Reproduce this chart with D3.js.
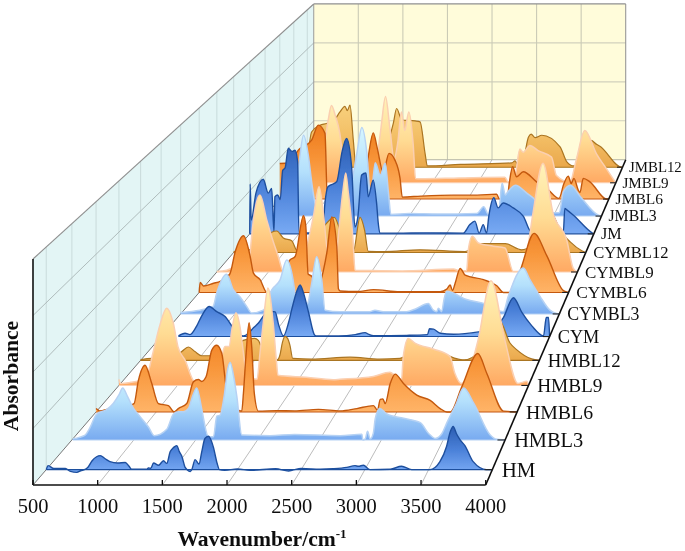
<!DOCTYPE html>
<html><head><meta charset="utf-8">
<script src="https://cdn.jsdelivr.net/npm/d3@7"></script>
<style>html,body{margin:0;padding:0;background:#fff}svg{display:block}text{font-family:"Liberation Serif","Times New Roman",serif;fill:#111}</style>
</head><body><div id="c"></div>
<script>
const seriesNames=["HM","HMBL3","HMBL6","HMBL9","HMBL12","CYM","CYMBL3","CYMBL6","CYMBL9","CYMBL12","JM","JMBL3","JMBL6","JMBL9","JMBL12"];
const xTicks=[500,1000,1500,2000,2500,3000,3500,4000];
const HM=[[500,0],[515,.018],[560,.005],[650,.005],[690,-.008],[740,-.012],[770,-.005],[810,.003],[829,.012],[860,.04],[895,.058],[924,.063],[960,.05],[1000,.036],[1060,.03],[1120,.032],[1150,.015],[1170,.002],[1290,.002],[1301,.008],[1320,.006],[1342,.03],[1381,.02],[1420,.04],[1446,.028],[1472,.08],[1500,.1],[1524,.108],[1545,.08],[1564,.06],[1590,.01],[1605,0],[1630,-.008],[1642,0],[1668,.045],[1699,.025],[1720,.08],[1745,.14],[1772,.15],[1795,.13],[1812,.1],[1840,.03],[1859,0],[1900,-.003],[2000,.003],[2100,-.003],[2300,.004],[2400,-.006],[2445,0],[2500,.005],[2650,.002],[2750,.004],[2858,.01],[2923,.018],[2950,.015],[2988,.02],[3040,0],[3200,.002],[3288,.015],[3367,0],[3510,0],[3589,.036],[3641,.104],[3670,.17],[3693,.194],[3720,.16],[3746,.135],[3785,.108],[3850,.036],[3955,0],[4000,0]];
const HMBL3=[[507,.005],[607,.022],[640,.05],[701,.12],[780,.14],[836,.17],[880,.208],[911,.24],[950,.2],[998,.146],[1051,.108],[1119,.06],[1165,.02],[1267,.05],[1321,.12],[1361,.13],[1402,.13],[1442,.146],[1480,.21],[1509,.24],[1530,.2],[1550,.14],[1604,.015],[1644,.015],[1671,.11],[1698,.115],[1730,.2],[1760,.33],[1779,.358],[1805,.3],[1833,.2],[1873,.023],[2100,.02],[2300,.025],[2668,.02],[2843,.026],[2851,0],[2870,.005],[2889,.04],[2910,.005],[2935,.03],[2951,.098],[2986,.146],[3045,.12],[3180,.1],[3315,.08],[3382,.03],[3436,.007],[3490,.03],[3530,.08],[3600,.16],[3665,.24],[3746,.17],[3880,.023],[3921,.005],[4000,0]];
const HMBL6=[[500,.016],[530,.005],[616,.016],[700,.02],[816,.04],[852,.15],[907,.222],[963,.135],[1018,.04],[1101,.03],[1148,0],[1184,.016],[1254,.04],[1309,.143],[1351,.154],[1378,.145],[1414,.167],[1462,.294],[1503,.317],[1545,.278],[1586,.1],[1642,.03],[1711,.004],[1725,.09],[1745,.26],[1772,.424],[1795,.3],[1815,.09],[1849,.004],[2000,.006],[2150,.005],[2348,.012],[2529,.005],[2668,.016],[2806,.03],[2839,.008],[2862,.06],[2884,.062],[2903,.04],[2945,.135],[2986,.18],[3055,.135],[3166,.08],[3277,.055],[3360,.016],[3416,0],[3443,0],[3540,.12],[3673,.278],[3748,.183],[3887,.004],[4000,0]];
const HMBL9=[[500,.03],[512,.01],[600,.015],[690,.025],[740,.05],[793,.165],[850,.295],[908,.378],[964,.305],[1004,.19],[1064,.125],[1149,.018],[1250,.02],[1330,.08],[1377,.14],[1406,.19],[1440,.19],[1470,.29],[1500,.355],[1534,.287],[1557,.19],[1590,.06],[1680,.03],[1705,.157],[1733,.305],[1773,.476],[1818,.305],[1847,.11],[1859,.05],[2100,.04],[2331,.028],[2388,.03],[2673,.044],[2815,.064],[2858,.05],[2915,.028],[2929,.14],[2972,.23],[3029,.207],[3185,.178],[3328,.142],[3370,.06],[3427,.01],[3456,.02],[3568,.22],[3679,.512],[3798,.22],[3909,.01],[3985,.02],[4000,0]];
const HMBL12=[[500,.003],[600,.01],[780,.01],[861,.044],[919,.067],[977,.044],[1036,.023],[1109,.023],[1124,.002],[1300,.01],[1400,.1],[1500,.11],[1533,.1],[1600,.01],[1700,.003],[1723,.027],[1745,.09],[1767,.12],[1790,.11],[1811,.075],[1835,.01],[2000,.006],[2338,.016],[2600,.006],[2776,.01],[2900,.04],[3100,.04],[3288,.006],[3340,.002],[3500,.06],[3650,.2],[3742,.087],[3800,.054],[3932,.007],[4000,0]];
const CYM=[[656,.003],[716,.017],[760,.01],[821,.055],[866,.107],[932,.155],[1001,.128],[1076,.103],[1136,.055],[1190,.01],[1242,.003],[1287,.017],[1332,.045],[1377,.07],[1422,.106],[1470,.13],[1527,.127],[1557,.064],[1602,.003],[1647,.07],[1677,.14],[1720,.23],[1752,.266],[1785,.22],[1830,.12],[1880,.01],[1896,.003],[2100,.003],[2250,.01],[2338,.02],[2368,.012],[2413,.004],[2713,.006],[2900,.01],[2918,.04],[2954,.038],[3014,.017],[3134,.012],[3359,.024],[3500,.04],[3584,.098],[3674,.2],[3750,.124],[3840,.055],[3945,.003],[3970,.098],[3990,.098],[4000,0]];
const CYMBL3=[[500,.008],[679,.02],[756,.03],[800,.04],[833,.11],[925,.21],[987,.127],[1049,.09],[1110,.04],[1156,.005],[1264,.02],[1342,.127],[1419,.18],[1480,.285],[1539,.18],[1557,.11],[1600,.02],[1677,.06],[1711,.16],[1757,.303],[1804,.18],[1835,.02],[1973,.012],[2250,.012],[2296,.02],[2373,.012],[2589,.012],[2665,.025],[2789,.055],[2835,.02],[2866,.012],[2882,.03],[2912,.012],[2934,.076],[2959,.12],[3143,.076],[3328,.05],[3420,.02],[3482,.012],[3528,.093],[3667,.243],[3729,.18],[3821,.093],[3913,.02],[3975,.002],[4000,0]];
const CYMBL6=[[500,0],[509,.054],[540,.035],[636,.05],[699,.06],[790,.1],[841,.22],[920,.307],[983,.195],[1014,.105],[1077,.069],[1141,0],[1251,0],[1298,.114],[1362,.177],[1409,.195],[1488,.416],[1510,.36],[1532,.1],[1567,.087],[1620,.02],[1677,.12],[1709,.214],[1757,.41],[1804,.248],[1819,.02],[1836,.008],[2000,.005],[2152,.015],[2400,.004],[2783,.004],[2846,.018],[2878,.04],[2900,.01],[2925,.05],[2973,.13],[3020,.094],[3194,.069],[3320,.036],[3383,0],[3446,0],[3541,.118],[3673,.32],[3793,.2],[3951,.01],[4000,0]];
const CYMBL9=[[500,.002],[596,.01],[700,.03],[806,.005],[822,.1],[855,.289],[919,.427],[984,.289],[1032,.196],[1097,.085],[1146,.002],[1300,.02],[1388,.178],[1437,.307],[1492,.474],[1534,.325],[1567,.14],[1600,.02],[1650,.02],[1676,.178],[1725,.455],[1751,.55],[1773,.455],[1822,.178],[1841,.01],[2000,.008],[2300,.006],[2796,.016],[2860,.006],[2925,.008],[2941,.124],[2980,.198],[3038,.161],[3184,.143],[3297,.133],[3378,.002],[3459,.002],[3508,.1],[3569,.327],[3666,.604],[3763,.327],[3896,.178],[3960,.02],[4000,0]];
const CYMBL12=[[500,.005],[700,.02],[800,.05],[878,.115],[928,.122],[993,.083],[1077,.067],[1126,.014],[1250,.005],[1400,.15],[1500,.2],[1600,.05],[1689,.006],[1756,.2],[1800,.13],[1838,.006],[2000,.005],[2352,.015],[2800,.005],[2950,.05],[3200,.05],[3363,.015],[3500,.06],[3660,.22],[3744,.128],[3845,.06],[3960,.01],[4000,0]];
const JM=[[500,0],[504,.29],[515,.08],[563,.237],[637,.318],[688,.237],[723,.265],[746,.01],[756,.216],[784,.226],[810,.2],[835,.37],[860,.385],[892,.498],[930,.48],[960,.487],[987,.42],[1000,.005],[1240,.005],[1265,.18],[1295,.274],[1384,.303],[1440,.48],[1485,.556],[1536,.39],[1570,.04],[1600,.1],[1638,.342],[1682,.354],[1705,.216],[1756,.313],[1790,.18],[1807,.063],[1824,.004],[2000,.004],[2300,.006],[2671,.004],[2739,.054],[2790,.074],[2834,.004],[2875,.054],[2909,.004],[2932,.103],[2983,.21],[3027,.151],[3078,.18],[3180,.151],[3282,.103],[3366,.01],[3500,.01],[3690,.01],[3705,.148],[3725,.14],[3790,.11],[3993,.002],[4000,0]];
const JMBL3=[[500,.01],[700,.05],[800,.15],[847,.293],[900,.482],[952,.353],[986,.196],[1021,.077],[1100,.01],[1300,.02],[1418,.25],[1455,.375],[1507,.528],[1559,.375],[1600,.1],[1620,.2],[1646,.317],[1698,.244],[1750,.314],[1784,.135],[1809,.01],[2000,.015],[2300,.012],[2704,.015],[2774,.056],[2826,.008],[2930,.03],[2966,.195],[3000,.125],[3020,.14],[3104,.184],[3226,.135],[3313,.095],[3400,.02],[3560,.02],[3604,.145],[3677,.184],[3781,.115],[3970,.005],[4000,0]];
const JMBL6=[[500,.217],[600,.22],[697,.298],[839,.359],[910,.45],[981,.4],[1005,.01],[1300,.01],[1400,.1],[1441,.257],[1495,.403],[1537,.31],[1600,.16],[1662,.278],[1725,.237],[1779,.127],[1803,.012],[2000,.018],[2346,.024],[2600,.024],[2807,.03],[2835,.002],[2920,.004],[2941,.095],[2977,.197],[3019,.136],[3090,.166],[3232,.105],[3350,.06],[3470,.004],[3523,.095],[3569,.14],[3600,.095],[3629,.126],[3675,.055],[3693,.04],[3728,.126],[3799,.105],[3977,0],[4000,0]];
const JMBL9=[[500,.1],[700,.15],[837,.264],[873,.388],[909,.481],[950,.42],[1000,.307],[1036,.14],[1080,.005],[1350,.01],[1435,.284],[1453,.367],[1497,.537],[1543,.346],[1590,.15],[1630,.25],[1670,.44],[1706,.326],[1750,.44],[1797,.243],[1823,.027],[1870,.025],[2300,.03],[2794,.035],[2830,.005],[2900,.03],[2957,.211],[2993,.19],[3066,.232],[3156,.2],[3301,.16],[3355,.045],[3500,.004],[3573,.15],[3663,.325],[3790,.18],[3899,.087],[4000,0]];
const JMBL12=[[500,.02],[548,.224],[641,.267],[715,.278],[800,.3],[863,.351],[918,.387],[945,.36],[974,.394],[1011,.171],[1040,.01],[1300,.05],[1455,.278],[1492,.373],[1550,.3],[1697,.294],[1752,.288],[1808,.087],[1833,.008],[2200,.018],[2771,.027],[2807,.04],[2844,.012],[2900,.05],[2955,.19],[2985,.21],[3030,.188],[3104,.203],[3307,.129],[3382,.034],[3460,.008],[3560,.05],[3650,.17],[3715,.144],[3745,.135],[3992,0],[4000,0]];
const seriesData=[HM,HMBL3,HMBL6,HMBL9,HMBL12,CYM,CYMBL3,CYMBL6,CYMBL9,CYMBL12,JM,JMBL3,JMBL6,JMBL9,JMBL12];

const styles=[
 {stroke:"#1f4f9e",sw:1.4,stops:["#2b5db2","#4a80d8","#78aaf4"]},
 {stroke:"#b6d2f4",sw:1.5,stops:["#d6f6ff","#b4e0fc","#78aaf0"]},
 {stroke:"#c4590f",sw:1.4,stops:["#ee7a1c","#f8963a","#ffb468"]},
 {stroke:"#fbcfb0",sw:1.5,stops:["#fff3ba","#ffdc94","#ffa963"]},
 {stroke:"#aa7420",sw:1.2,stops:["#f8d07c","#f3bf66","#eaa84c"]}];

const W=685,H=551;
const svg=d3.select("#c").append("svg").attr("width",W).attr("height",H);
const defs=svg.append("defs");
defs.append("filter").attr("id","soft").attr("x","-2%").attr("y","-2%").attr("width","104%").attr("height","104%")
  .append("feGaussianBlur").attr("stdDeviation",0.45);
const root=svg.append("g").attr("filter","url(#soft)");

// perspective projection of the 3D box
const frontL=[33,485],frontWidth=452.7,frontHeight=226,k=0.451,rise=[280.5,-325],vanishT=3.22;
const depthOf=d3.scaleLinear().domain([0,14]).range([0.033,0.967]);
function frame(d){
  const s=1/(1+k*d),t=vanishT*(1-s);
  const x0=frontL[0]+rise[0]*t,y0=frontL[1]+rise[1]*t;
  return {s,x0,y0,
    x:d3.scaleLinear().domain([500,4000]).range([x0,x0+frontWidth*s]),
    y:d3.scaleLinear().domain([0,1]).range([y0,y0-frontHeight*s])};
}
const f0=frame(0),f1=frame(1);
const poly=p=>"M"+p.map(q=>q.join(",")).join("L")+"Z";
const lineG=(a,b,c,w)=>root.append("line").attr("x1",a[0]).attr("y1",a[1]).attr("x2",b[0]).attr("y2",b[1]).attr("stroke",c).attr("stroke-width",w);

// walls
root.append("path").attr("d",poly([[f0.x(500),f0.y(0)],[f0.x(500),f0.y(1)],[f1.x(500),f1.y(1)],[f1.x(500),f1.y(0)]])).attr("fill","#e3f5f5");
root.append("path").attr("d",poly([[f1.x(500),f1.y(0)],[f1.x(500),f1.y(1)],[f1.x(4000),f1.y(1)],[f1.x(4000),f1.y(0)]])).attr("fill","#fffcda");
seriesNames.forEach((n,i)=>{const f=frame(depthOf(i));lineG([f.x(500),f.y(0)],[f.x(500),f.y(1)],"#c6d8d8",0.9);});
[0.25,0.5,0.75].forEach(v=>{
  lineG([f0.x(500),f0.y(v)],[f1.x(500),f1.y(v)],"#a9b6b6",0.9);
  lineG([f1.x(500),f1.y(v)],[f1.x(4000),f1.y(v)],"#d2d1bc",1.1);
});
xTicks.forEach(v=>{
  if(v>500&&v<4000) lineG([f1.x(v),f1.y(0)],[f1.x(v),f1.y(1)],"#cbcbb6",1.1);
  if(v>500&&v<4000) lineG([f0.x(v),f0.y(0)],[f1.x(v),f1.y(0)],"#b4b4b4",0.9);
});
lineG([f1.x(500),f1.y(0)],[f1.x(4000),f1.y(0)],"#b5b5a5",1);
lineG([f1.x(500),f1.y(0)],[f1.x(500),f1.y(1)],"#9a9a9a",1);
lineG([f1.x(4000),f1.y(0)],[f1.x(4000),f1.y(1)],"#8f8f8f",1);
lineG([f1.x(500),f1.y(1)],[f1.x(4000),f1.y(1)],"#8f8f8f",1.2);
lineG([f0.x(500),f0.y(1)],[f1.x(500),f1.y(1)],"#8f8f8f",1.1);
lineG([f0.x(500),f0.y(0)],[f1.x(500),f1.y(0)],"#777",1);

// ribbons, back to front
d3.range(14,-1,-1).forEach(i=>{
  const f=frame(depthOf(i)),st=styles[i%5],data=seriesData[i];
  const g=defs.append("linearGradient").attr("id","g"+i).attr("x1",0).attr("y1",0).attr("x2",0).attr("y2",1);
  st.stops.forEach((c,j)=>g.append("stop").attr("offset",(j*50)+"%").attr("stop-color",c));
  const area=d3.area().x(d=>f.x(d[0])).y0(f.y(0)).y1(d=>f.y(d[1])).curve(d3.curveMonotoneX);
  const line=d3.line().x(d=>f.x(d[0])).y(d=>f.y(d[1])).curve(d3.curveMonotoneX);
  const gg=root.append("g").attr("class","ribbon");
  gg.append("path").datum(data).attr("d",area).attr("fill",`url(#g${i})`);
  gg.append("path").datum(data).attr("d",line).attr("fill","none").attr("stroke",st.stroke).attr("stroke-width",st.sw).attr("stroke-linejoin","round");
  gg.append("line").attr("x1",f.x(data[0][0])).attr("x2",f.x(4000)).attr("y1",f.y(0)).attr("y2",f.y(0)).attr("stroke",st.stroke).attr("stroke-width",1.1);
});

// axes
lineG([f0.x(500),f0.y(0)],[f0.x(500),f0.y(1)],"#111",1.6);
lineG([f0.x(500),f0.y(0)],[f0.x(4000),f0.y(0)],"#111",1.6);
lineG([f0.x(4000),f0.y(0)],[f1.x(4000),f1.y(0)],"#111",1.6);
xTicks.forEach(v=>{
  lineG([f0.x(v),f0.y(0)],[f0.x(v),f0.y(0)-5],"#111",1.3);
  root.append("text").attr("x",f0.x(v)).attr("y",513).attr("text-anchor","middle").attr("font-size",20.5).text(v);
});
seriesNames.forEach((n,i)=>{
  const f=frame(depthOf(i));
  lineG([f.x(4000)-8*f.s,f.y(0)],[f.x(4000),f.y(0)],"#222",1.1);
  root.append("text").attr("x",f.x(4000)+9.8*f.s-0.3).attr("y",f.y(0)).attr("dy","0.34em").attr("font-size",21.3*f.s).text(n);
});
const xt=root.append("text").attr("x",262).attr("y",546).attr("text-anchor","middle").attr("font-size",21.6).attr("font-weight","bold");
xt.append("tspan").text("Wavenumber/cm");
xt.append("tspan").attr("font-size",13).attr("dy",-8).text("-1");
root.append("text").attr("transform","translate(18,376) rotate(-90)").attr("text-anchor","middle").attr("font-size",21.6).attr("font-weight","bold").text("Absorbance");
</script></body></html>
